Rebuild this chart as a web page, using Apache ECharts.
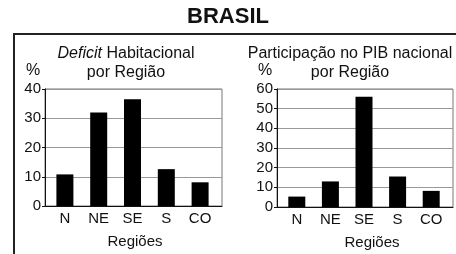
<!DOCTYPE html>
<html>
<head>
<meta charset="utf-8">
<script src="https://cdn.jsdelivr.net/npm/echarts@6/dist/echarts.min.js"></script>
<style>
  html, body { margin: 0; padding: 0; background: #fff; }
  #chart { width: 456px; height: 254px; }
</style>
</head>
<body>
<div id="chart"></div>
<script>
const regions = ["N", "NE", "SE", "S", "CO"];
const deficit = [10.8, 32, 36.5, 12.6, 8.1];
const pib = [5.3, 13, 56, 15.5, 8.2];

const font = "Arial, 'Liberation Sans', sans-serif";
const ink = "#111";

const chart = echarts.init(document.getElementById("chart"));

// box grids (0, 2) carry the y scale, gridlines and border;
// bar grids (1, 3) sit a bit inside them, like in the original drawing
function yAxis(gridIndex, max, visible) {
  return {
    type: "value",
    gridIndex,
    min: 0,
    max,
    interval: 10,
    show: visible,
    axisLine: { show: true, lineStyle: { color: ink, width: 1 } },
    axisTick: { show: true, length: 3, lineStyle: { color: ink } },
    axisLabel: { color: ink, fontSize: 15, fontFamily: font, margin: 4 },
    splitLine: { show: visible, lineStyle: { color: "#999", width: 1 } },
  };
}

function boxXAxis(gridIndex) {
  return {
    type: "category",
    gridIndex,
    data: regions,
    axisLine: { lineStyle: { color: ink, width: 1 } },
    axisTick: { show: false },
    axisLabel: { show: false },
  };
}

function barXAxis(gridIndex, shift) {
  return {
    type: "category",
    gridIndex,
    data: regions,
    axisLine: { show: false },
    axisTick: { show: false },
    axisLabel: { color: ink, fontSize: 15, fontFamily: font, margin: 5 },
    name: "Regiões",
    nameLocation: "middle",
    nameGap: 28,
    nameTextStyle: { color: ink, fontSize: 15, fontFamily: font, padding: [0, 0, 0, shift] },
  };
}

chart.setOption({
  animation: false,
  title: [
    {
      text: "BRASIL",
      left: "center",
      top: 6,
      padding: 0,
      textStyle: { color: ink, fontSize: 22, fontWeight: "bold", fontFamily: font },
    },
    {
      text: "{i|Deficit} Habitacional\npor Região",
      left: 126,
      top: 44,
      padding: 0,
      textAlign: "center",
      textStyle: {
        color: ink, fontSize: 16, fontWeight: "normal", fontFamily: font, lineHeight: 19,
        rich: { i: { fontStyle: "italic", fontSize: 16, fontFamily: font, color: ink, lineHeight: 19 } },
      },
    },
    {
      text: "Participação no PIB nacional\npor Região",
      left: 350,
      top: 44,
      padding: 0,
      textAlign: "center",
      textStyle: { color: ink, fontSize: 16, fontWeight: "normal", fontFamily: font, lineHeight: 19 },
    },
    {
      text: "%",
      left: 26,
      top: 63,
      padding: 0,
      textStyle: { color: ink, fontSize: 16, fontWeight: "normal", fontFamily: font },
    },
    {
      text: "%",
      left: 258,
      top: 63,
      padding: 0,
      textStyle: { color: ink, fontSize: 16, fontWeight: "normal", fontFamily: font },
    },
  ],
  graphic: [
    { type: "line", shape: { x1: 13, y1: 34, x2: 456, y2: 34 }, style: { stroke: "#222", lineWidth: 2 } },
    { type: "line", shape: { x1: 14, y1: 34, x2: 14, y2: 254 }, style: { stroke: "#222", lineWidth: 2 } },
  ],
  grid: [
    { left: 45, right: 234, top: 89, bottom: 48, show: true, borderColor: "#777", borderWidth: 1 },
    { left: 48, right: 239, top: 89, bottom: 48 },
    { left: 277, right: 3, top: 89, bottom: 47, show: true, borderColor: "#777", borderWidth: 1 },
    { left: 280, right: 8, top: 89, bottom: 47 },
  ],
  xAxis: [boxXAxis(0), barXAxis(1, 5), boxXAxis(2), barXAxis(3, 16)],
  yAxis: [yAxis(0, 40, true), yAxis(1, 40, false), yAxis(2, 60, true), yAxis(3, 60, false)],
  series: [
    { type: "bar", xAxisIndex: 1, yAxisIndex: 1, data: deficit, barWidth: 17, itemStyle: { color: "#000" } },
    { type: "bar", xAxisIndex: 3, yAxisIndex: 3, data: pib, barWidth: 17, itemStyle: { color: "#000" } },
  ],
});
</script>
</body>
</html>
